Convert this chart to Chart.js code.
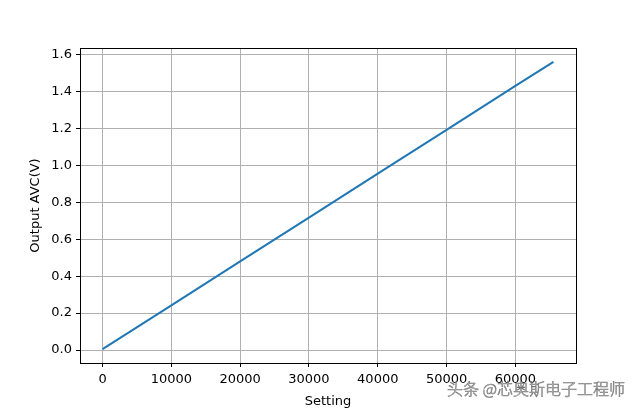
<html>
<head>
  <meta charset="UTF-8">
  <title>Output AVC</title>
  <script src="https://cdn.jsdelivr.net/npm/chart.js"></script>
  <style>
    body { margin: 0; background: white; }
    #wrap { width: 640px; height: 409px; }
  </style>
</head>
<body>
  <div id="wrap"><canvas id="avc-chart" width="640" height="409"></canvas></div>

  <script>
    // valores
    const settings = [0, 10000, 20000, 30000, 40000, 50000, 60000, 65535];
    const outputV = [0.005, 0.242, 0.480, 0.717, 0.955, 1.192, 1.430, 1.560];
    const xTicks = [0, 10000, 20000, 30000, 40000, 50000, 60000];
    const yTicks = [0.0, 0.2, 0.4, 0.6, 0.8, 1.0, 1.2, 1.4, 1.6];

    const fontTicks = { family: 'DejaVu Sans', size: 13 };

    // marco completo y marca de agua
    const framePlugin = {
      id: 'frame',
      afterDraw(chart) {
        const { ctx, chartArea: a } = chart;
        ctx.save();
        ctx.strokeStyle = '#000';
        ctx.lineWidth = 1;
        ctx.strokeRect(a.left + 0.5, a.top + 0.5, a.right - a.left, a.bottom - a.top);
        ctx.font = '300 16px "Noto Sans CJK SC"';
        ctx.textBaseline = 'alphabetic';
        ctx.lineWidth = 0.6;
        ctx.strokeStyle = 'rgba(80,80,80,0.8)';
        ctx.fillStyle = 'rgba(255,255,255,0.9)';
        ctx.fillText('头条 @芯奥斯电子工程师', 447, 395);
        ctx.strokeText('头条 @芯奥斯电子工程师', 447, 395);
        ctx.restore();
      }
    };

    const ctx = document.getElementById('avc-chart').getContext('2d');
    new Chart(ctx, {
      type: 'line',
      data: {
        datasets: [{
          data: settings.map((s, i) => ({ x: s, y: outputV[i] })),
          borderColor: '#1f77b4',
          borderWidth: 2,
          pointRadius: 0,
          fill: false,
          tension: 0
        }]
      },
      options: {
        responsive: false,
        animation: false,
        layout: { padding: { top: 48, right: 64, left: 26, bottom: 0 } },
        plugins: { legend: { display: false }, tooltip: { enabled: false } },
        scales: {
          x: {
            type: 'linear',
            min: -3277,
            max: 68812,
            afterBuildTicks: (s) => { s.ticks = xTicks.map(v => ({ value: v })); },
            afterFit: (s) => { s.height = 46; },
            ticks: { font: fontTicks, color: '#000', padding: 5, maxRotation: 0, autoSkip: false, callback: (v) => String(v) },
            grid: { color: '#b0b0b0', tickColor: '#000', tickLength: 4, lineWidth: 1 },
            border: { display: true, color: '#000' },
            title: { display: true, text: 'Setting', font: fontTicks, color: '#000', padding: { top: 0, bottom: 0 } }
          },
          y: {
            type: 'linear',
            min: -0.07,
            max: 1.635,
            afterBuildTicks: (s) => { s.ticks = yTicks.map(v => ({ value: v })); },
            afterFit: (s) => { s.width = 54; },
            ticks: { font: fontTicks, color: '#000', padding: 4, autoSkip: false, callback: (v) => v.toFixed(1) },
            grid: { color: '#b0b0b0', tickColor: '#000', tickLength: 4, lineWidth: 1 },
            border: { display: true, color: '#000' },
            title: { display: true, text: 'Output AVC(V)', font: fontTicks, color: '#000', padding: { top: 2, bottom: 0 } }
          }
        }
      },
      plugins: [framePlugin]
    });
  </script>
</body>
</html>
